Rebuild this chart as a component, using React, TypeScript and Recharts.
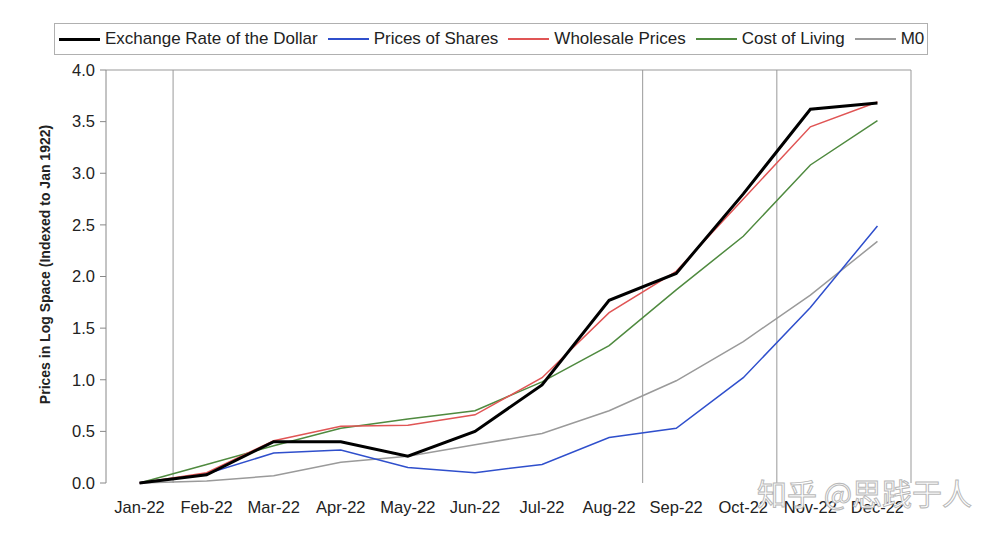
import React from 'react'
import { LineChart, Line, XAxis, YAxis, ReferenceLine, Legend } from 'recharts'

const MONTHS = ['Jan-22', 'Feb-22', 'Mar-22', 'Apr-22', 'May-22', 'Jun-22', 'Jul-22', 'Aug-22', 'Sep-22', 'Oct-22', 'Nov-22', 'Dec-22']

const EXCHANGE = [0, 0.08, 0.4, 0.4, 0.26, 0.5, 0.95, 1.77, 2.03, 2.8, 3.62, 3.68]
const SHARES = [0, 0.09, 0.29, 0.32, 0.15, 0.1, 0.18, 0.44, 0.53, 1.02, 1.7, 2.49]
const WHOLESALE = [0, 0.1, 0.41, 0.55, 0.56, 0.66, 1.02, 1.65, 2.05, 2.75, 3.45, 3.69]
const LIVING = [0, 0.18, 0.36, 0.53, 0.62, 0.7, 0.98, 1.33, 1.87, 2.39, 3.08, 3.51]
const M0 = [0, 0.02, 0.07, 0.2, 0.26, 0.37, 0.48, 0.7, 0.99, 1.37, 1.82, 2.34]

const Y_TICKS = [0, 0.5, 1, 1.5, 2, 2.5, 3, 3.5, 4]
const DIVIDERS = [0.5, 7.5, 9.5]

const FONT = "'Liberation Sans', Arial, sans-serif"

// legend order
const SERIES = [
  { key: 'exchange', name: 'Exchange Rate of the Dollar', color: '#000000', width: 3 },
  { key: 'shares', name: 'Prices of Shares', color: '#2f4fcc', width: 1.5 },
  { key: 'wholesale', name: 'Wholesale Prices', color: '#e05555', width: 1.5 },
  { key: 'living', name: 'Cost of Living', color: '#4f8a3f', width: 1.5 },
  { key: 'm0', name: 'M0', color: '#9a9a9a', width: 1.5 },
]

// draw order (exchange on top)
const DRAW_ORDER = ['m0', 'living', 'shares', 'wholesale', 'exchange']

const data = MONTHS.map((month, i) => ({
  idx: i,
  month,
  exchange: EXCHANGE[i],
  shares: SHARES[i],
  wholesale: WHOLESALE[i],
  living: LIVING[i],
  m0: M0[i],
}))

const EDGE_TICKS = MONTHS.map((_, i) => i - 0.5).concat(MONTHS.length - 0.5)

function LegendBox() {
  return (
    <div style={{
      display: 'flex',
      alignItems: 'center',
      border: '1px solid #b0b0b0',
      height: 30,
      padding: '0 3px 0 4px',
      fontFamily: FONT,
      fontSize: 17,
      color: '#222',
      background: '#fff',
      whiteSpace: 'nowrap',
    }}>
      {SERIES.map((s, i) => (
        <div key={s.key} style={{ display: 'flex', alignItems: 'center', marginRight: i === SERIES.length - 1 ? 0 : 10 }}>
          <span style={{ display: 'inline-block', width: 41, height: s.width, background: s.color, marginRight: 5 }} />
          <span>{s.name}</span>
        </div>
      ))}
    </div>
  )
}

function YLabel(props: any) {
  const { viewBox } = props
  const cx = viewBox.x + 37
  const cy = viewBox.y + viewBox.height / 2 - 12
  return (
    <text
      x={cx}
      y={cy}
      transform={`rotate(-90 ${cx} ${cy})`}
      textAnchor="middle"
      dominantBaseline="central"
      fontFamily={FONT}
      fontWeight="bold"
      fontSize={14}
      fill="#222"
    >
      Prices in Log Space (Indexed to Jan 1922)
    </text>
  )
}

export default function App() {
  const seriesByKey = Object.fromEntries(SERIES.map(s => [s.key, s]))
  return (
    <div style={{ position: 'relative', width: 984, height: 518, background: '#fff' }}>
      <LineChart width={984} height={518} data={data} margin={{ top: 62, right: 81, bottom: 0, left: 0 }}>
        <XAxis
          xAxisId="e"
          type="number"
          dataKey="idx"
          domain={[-0.5, MONTHS.length - 0.5]}
          ticks={EDGE_TICKS}
          interval={0}
          tickFormatter={() => ''}
          tickSize={5}
          height={0}
          stroke="#888"
          allowDataOverflow
        />
        <XAxis
          xAxisId="m"
          type="number"
          dataKey="idx"
          domain={[-0.5, MONTHS.length - 0.5]}
          ticks={MONTHS.map((_, i) => i)}
          interval={0}
          tickFormatter={(v: number) => MONTHS[v] ?? ''}
          axisLine={false}
          tickLine={false}
          tickSize={6}
          tickMargin={12}
          height={43}
          tick={{ fontSize: 16.5, fill: '#222', fontFamily: FONT }}
          allowDataOverflow
        />
        <YAxis
          type="number"
          domain={[0, 4]}
          ticks={Y_TICKS}
          interval={0}
          width={98}
          tickFormatter={(v: number) => v.toFixed(1)}
          tickSize={6}
          tickMargin={5}
          stroke="#888"
          tick={{ fontSize: 16.5, fill: '#222', fontFamily: FONT }}
          label={<YLabel />}
        />
        <ReferenceLine xAxisId="m" y={4} stroke="#999" strokeWidth={1} />
        <ReferenceLine xAxisId="m" x={MONTHS.length - 0.5} stroke="#999" strokeWidth={1} />
        {DIVIDERS.map(d => (
          <ReferenceLine key={d} xAxisId="m" x={d} stroke="#999" strokeWidth={1} />
        ))}
        {DRAW_ORDER.map(k => {
          const s = seriesByKey[k]
          return (
            <Line
              key={k}
              xAxisId="m"
              type="linear"
              dataKey={k}
              name={s.name}
              stroke={s.color}
              strokeWidth={s.width}
              dot={false}
              activeDot={false}
              isAnimationActive={false}
            />
          )
        })}
        <Legend
          verticalAlign="middle"
          align="center"
          content={() => <LegendBox />}
          wrapperStyle={{ top: 15, left: 46, width: 'auto' }}
        />
      </LineChart>
      <div style={{
        position: 'absolute',
        left: 749,
        top: 462,
        fontFamily: "'Noto Sans CJK SC', sans-serif",
        fontSize: 30,
        color: '#ffffff',
        WebkitTextStroke: '1px #b8b8b8',
        whiteSpace: 'nowrap',
        pointerEvents: 'none',
      }}>
        知乎 @思践于人
      </div>
    </div>
  )
}
